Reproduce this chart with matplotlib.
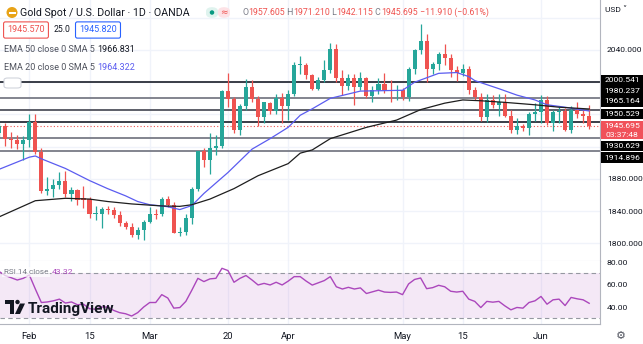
import matplotlib
matplotlib.use("Agg")
import matplotlib.pyplot as plt
from matplotlib import patches
import pandas as pd

plt.rcParams['font.family'] = ['Roboto', 'DejaVu Sans']

# daily bars, OANDA has no bar on Good Friday
dates = [d for d in pd.bdate_range('2023-01-25', '2023-06-13') if d != pd.Timestamp('2023-04-07')]

opens = [1937.5, 1946, 1929.5, 1928, 1923, 1928, 1951, 1913, 1865, 1867,
         1873, 1877, 1861, 1866, 1856, 1855, 1836, 1837, 1843, 1842,
         1835, 1825, 1821, 1810, 1817, 1827, 1836, 1836, 1855, 1848,
         1813.5, 1814.5, 1831, 1867, 1915, 1904, 1919, 1921, 1989, 1979,
         1941, 1970, 1994, 1979, 1957, 1974, 1964, 1980, 1970, 1985,
         2021, 2021, 2009, 1992, 2003, 2015, 2041, 2005, 1995, 2005,
         1994, 2005, 1983, 1990, 1998, 1990, 1988.5, 1990, 1982, 2017,
         2040, 2051, 2017, 2022, 2035, 2030, 2015, 2011, 2017, 1990,
         1982, 1957, 1978, 1972, 1976, 1958, 1941, 1946, 1943, 1960,
         1963, 1978, 1949, 1963, 1964, 1940.5, 1966, 1961, 1957.605]
highs = [1949, 1949.5, 1938, 1934, 1933, 1960, 1960, 1918, 1882, 1880,
         1888, 1890, 1870, 1868, 1871, 1857, 1846, 1845, 1847, 1845,
         1840, 1828, 1825, 1820, 1829, 1845, 1843, 1858, 1859, 1851,
         1820, 1836, 1870, 1914, 1918, 1937, 1934, 1990, 2011, 1982,
         1973, 2004, 2003, 1983, 1976, 1976, 1985, 1987, 1990, 2025,
         2032, 2024, 2010, 2006, 2028, 2049, 2048, 2015, 2010, 2010,
         2013, 2007, 1995, 2005, 2011, 2003, 1997, 1993, 2019, 2041,
         2072, 2060, 2025, 2038, 2048, 2035, 2020, 2022, 2020, 1994,
         1987, 1985, 1984, 1985, 1985, 1965, 1955, 1948, 1963, 1974,
         1984, 1983, 1966, 1969, 1968, 1971, 1975, 1965, 1971.21]
lows = [1932, 1921, 1919, 1917, 1904, 1920, 1911, 1862, 1860, 1858,
        1868, 1858, 1853, 1848, 1844, 1831, 1829, 1819, 1837, 1832,
        1822, 1818, 1808, 1806, 1804, 1825, 1830, 1834, 1845, 1813,
        1809, 1810, 1824, 1865, 1895, 1886, 1910, 1919, 1969, 1937,
        1935, 1965, 1975, 1946, 1950, 1961, 1961, 1950, 1953, 1983,
        2010, 2004, 1990, 1990, 2000, 2012, 2000, 1984, 1990, 1972,
        1990, 1981, 1975, 1985, 1987, 1976, 1978, 1978, 1977, 2010,
        2035, 2000, 2010, 2015, 2021, 2007, 2002, 2008, 1985, 1978,
        1952, 1951, 1968, 1958, 1957, 1937, 1936, 1940, 1934, 1952,
        1950, 1947, 1939, 1950, 1940, 1937, 1955, 1949, 1942.115]
closes = [1946, 1929.5, 1928, 1923, 1928, 1951, 1913, 1865, 1867, 1873,
          1877, 1861, 1866, 1854, 1854, 1836, 1837, 1843, 1842, 1835,
          1825, 1821, 1810, 1817, 1827, 1836, 1835.5, 1855, 1848, 1813.5,
          1814.5, 1831, 1867, 1915, 1904, 1919, 1921, 1989, 1979, 1941,
          1970, 1994, 1979, 1957, 1975, 1964, 1980, 1970, 1985, 2021,
          2021.5, 2009, 1992, 2003, 2015, 2041, 2005, 1995, 2005, 1994,
          2005, 1983, 1990, 1998, 1990, 1988.5, 1990, 1982, 2017, 2040,
          2051, 2017, 2022, 2035, 2030, 2015, 2011, 2017, 1990, 1982,
          1957, 1978, 1972, 1976, 1958, 1941, 1946, 1943, 1960, 1963,
          1978, 1949, 1963, 1964, 1940.5, 1966, 1961, 1957.605, 1945.695]

ema20_dates = ['2023-01-25', '2023-02-01', '2023-02-02', '2023-02-03', '2023-02-09', '2023-02-15',
               '2023-02-20', '2023-02-23', '2023-02-27', '2023-03-01', '2023-03-03', '2023-03-06',
               '2023-03-08', '2023-03-10', '2023-03-14', '2023-03-20', '2023-03-24', '2023-03-29',
               '2023-04-03', '2023-04-05', '2023-04-10', '2023-04-13', '2023-04-20', '2023-05-01',
               '2023-05-03', '2023-05-09', '2023-05-12', '2023-05-16', '2023-05-17', '2023-05-23',
               '2023-05-26', '2023-05-31', '2023-06-02', '2023-06-07', '2023-06-13']
ema20_vals = [1892, 1907, 1908.5, 1905, 1893, 1878, 1868, 1859, 1852, 1848, 1846.5, 1845.5,
              1842, 1847, 1862, 1888, 1917, 1930, 1944, 1959, 1967, 1980, 1989, 1990,
              2000, 2011, 2012, 2007, 2002, 1992, 1984, 1978, 1972, 1969, 1964.3]

ema50_dates = ['2023-01-25', '2023-02-02', '2023-02-09', '2023-02-15', '2023-02-20', '2023-02-24',
               '2023-03-03', '2023-03-08', '2023-03-10', '2023-03-15', '2023-03-21', '2023-03-27',
               '2023-04-03', '2023-04-05', '2023-04-10', '2023-04-13', '2023-04-21', '2023-04-28',
               '2023-05-04', '2023-05-10', '2023-05-15', '2023-05-18', '2023-05-24', '2023-05-31',
               '2023-06-06', '2023-06-13']
ema50_vals = [1833, 1853, 1856, 1855, 1852, 1849, 1846.5, 1846, 1848, 1855, 1868, 1884,
              1899, 1912, 1916, 1930, 1944, 1953, 1966, 1974, 1978, 1977, 1975, 1972,
              1969, 1966.8]

rsi = [71.5, 68, 66, 64, 65.5, 68.5, 56, 44, 44.5, 45.5,
       47, 43.5, 44.5, 42, 42.5, 38.5, 38, 40, 40, 37,
       35, 34, 32, 35, 40, 44, 44, 51, 48, 39,
       39.5, 45, 55, 65.5, 62.6, 65, 65.5, 74.4, 72.4, 62,
       65.5, 68, 64, 59.6, 61, 59.6, 62, 59.6, 63, 67,
       67, 63, 59.5, 61.5, 63.5, 67, 58, 56, 57.5, 56,
       57, 52, 53.5, 55, 53.3, 53, 53.3, 51, 60.5, 64.5,
       65.8, 56.3, 57.2, 59.3, 58, 54, 53.3, 54, 47, 45,
       39.5, 45, 44.3, 45, 41, 37.5, 39.6, 39, 44, 45.5,
       49.4, 42.5, 46.4, 47, 41.3, 48.5, 47.3, 46.4, 43.32]

levels = [2000.541, 1980.237, 1965.164, 1950.529, 1930.629, 1914.896]
level_colors = ['#2a2e39', '#787b86', '#50535e', '#2a2e39', '#787b86', '#787b86']
last_price = 1945.695

price_ticks = [1800, 1840, 1880, 1920, 1960, 2000, 2040, 2080]
shown_price_ticks = [1800, 1840, 1880, 2040]
rsi_ticks = [40, 60, 80]
tick_dates = ['2023-02-01', '2023-02-15', '2023-03-01', '2023-03-20',
              '2023-04-03', '2023-05-01', '2023-05-15', '2023-06-01']
tick_labels = ['Feb', '15', 'Mar', '20', 'Apr', 'May', '15', 'Jun']

UP = '#26a69a'
DOWN = '#ef5350'
GRID = '#f0f3fa'
TXT = '#131722'

W, H = 643, 344
pos = {d.strftime('%Y-%m-%d'): i for i, d in enumerate(dates)}
xs = list(range(len(dates)))


def fy(ypx):
    return 1 - ypx / H


def fx(xpx):
    return xpx / W


fig = plt.figure(figsize=(W / 100, H / 100), dpi=100)
ax = fig.add_axes([0, fy(261), fx(600), 261 / H])
ar = fig.add_axes([0, fy(324), fx(600), 63 / H], sharex=ax)

# --- price panel
for t in tick_dates:
    ax.axvline(pos[t], color=GRID, lw=1, zorder=0)
    ar.axvline(pos[t], color=GRID, lw=1, zorder=0)
for p in price_ticks:
    ax.axhline(p, color=GRID, lw=1, zorder=0)

for p, c in zip(levels, level_colors):
    ax.axhline(p, color=c, lw=1.3, zorder=1)
ax.axhline(last_price, color=DOWN, lw=0.8, ls=(0, (1, 2)), zorder=1)

cols = [UP if c >= o else DOWN for o, c in zip(opens, closes)]
ax.vlines(xs, lows, highs, colors=cols, lw=0.9, zorder=3)
bottoms = [min(o, c) for o, c in zip(opens, closes)]
heights = [max(abs(c - o), 1.2) for o, c in zip(opens, closes)]
ax.bar(xs, heights, bottom=bottoms, width=0.68, color=cols, zorder=4, linewidth=0)

ax.plot([pos[d] for d in ema20_dates], ema20_vals, color='#5b5cf0', lw=0.9, zorder=5)
ax.plot([pos[d] for d in ema50_dates], ema50_vals, color='#1e1e1e', lw=0.9, zorder=5)

ax.set_xlim(0.13, 99.8)
ax.set_ylim(1778.2, 2102)
ax.yaxis.tick_right()
ax.set_yticks(shown_price_ticks)
ax.set_yticklabels(['%.3f' % p for p in shown_price_ticks])
ax.tick_params(axis='y', length=0, pad=5, labelsize=6.1, labelcolor=TXT)
ax.tick_params(axis='x', length=0, labelbottom=False)
for s in ['top', 'left']:
    ax.spines[s].set_visible(False)
ax.spines['right'].set_color('#b2b5be')
ax.spines['bottom'].set_color('#d1d4dc')

# --- RSI panel
ar.axhspan(30, 70, color='#9c27b0', alpha=0.1, lw=0, zorder=0)
ar.axhline(70, color='#9598a1', lw=0.8, ls=(0, (4, 3)), zorder=1)
ar.axhline(30, color='#9598a1', lw=0.8, ls=(0, (4, 3)), zorder=1)
ar.plot(xs, rsi, color='#ab47bc', lw=1.0, zorder=3)
ar.set_ylim(24.9, 80.9)
ar.yaxis.tick_right()
ar.set_yticks(rsi_ticks)
ar.set_yticklabels(['%.2f' % r for r in rsi_ticks])
ar.tick_params(axis='y', length=0, pad=5, labelsize=6.1, labelcolor=TXT)
ar.set_xticks([pos[t] for t in tick_dates])
ar.set_xticklabels(tick_labels)
ar.tick_params(axis='x', length=0, pad=6, labelsize=6.8, labelcolor=TXT)
for s in ['top', 'left']:
    ar.spines[s].set_visible(False)
ar.spines['right'].set_color('#b2b5be')
ar.spines['bottom'].set_color('#b2b5be')

# --- right-axis price labels (pixel centres chosen to avoid overlap)
label_boxes = [('2000.541', 80.5), ('1980.237', 91), ('1965.164', 101.3),
               ('1950.529', 114), ('1930.629', 146), ('1914.896', 157.5)]
for txt, yc in label_boxes:
    fig.add_artist(patches.Rectangle((fx(601), fy(yc + 5.3)), fx(42), 10.6 / H,
                                     transform=fig.transFigure, color='black', lw=0, zorder=20))
    fig.text(fx(622), fy(yc), txt, ha='center', va='center', color='white', fontsize=6.1,
             zorder=21)
fig.add_artist(patches.Rectangle((fx(601), fy(139.5)), fx(42), 18.5 / H,
                                 transform=fig.transFigure, color='#f0525a', lw=0, zorder=20))
fig.text(fx(622), fy(126), '1945.695', ha='center', va='center', color='white', fontsize=6.1,
         zorder=21)
fig.text(fx(622), fy(135), '03:37:48', ha='center', va='center', color='white', fontsize=6.1,
         zorder=21)

fig.text(fx(605), fy(10), 'USD ˅', ha='left', va='center', color=TXT, fontsize=6)
fig.text(fx(621), fy(336), '⚙', ha='center', va='center', color='#50535e', fontsize=8,
         family=['DejaVu Sans'])

# --- legend / header
fig.add_artist(patches.Ellipse((fx(12), fy(12.5)), 11 / W, 11 / H, transform=fig.transFigure,
                               color='#e8a317', lw=0, zorder=20))
fig.add_artist(patches.Rectangle((fx(8.5), fy(14)), fx(7), 2 / H, transform=fig.transFigure,
                                 color='white', lw=0, zorder=21))
fig.text(fx(20), fy(12.5), 'Gold Spot / U.S. Dollar · 1D · OANDA', ha='left', va='center',
         color=TXT, fontsize=7.7)
fig.add_artist(patches.FancyBboxPatch((fx(206), fy(18)), fx(12), 11 / H,
                                      boxstyle='round,pad=0,rounding_size=0.012',
                                      transform=fig.transFigure, color='#dff3ee', lw=0))
fig.add_artist(patches.FancyBboxPatch((fx(218), fy(18)), fx(12), 11 / H,
                                      boxstyle='round,pad=0,rounding_size=0.012',
                                      transform=fig.transFigure, color='#fde2e6', lw=0))
fig.add_artist(patches.Ellipse((fx(212), fy(12.5)), 4.5 / W, 4.5 / H, transform=fig.transFigure,
                               color='#089981', lw=0, zorder=20))
fig.text(fx(224), fy(12.5), '≈', ha='center', va='center', color=DOWN, fontsize=6.5,
         family=['DejaVu Sans'])

ohlc = [('O', '#787b86'), ('1957.605', DOWN), (' H', '#787b86'), ('1971.210', DOWN),
        (' L', '#787b86'), ('1942.115', DOWN), (' C', '#787b86'), ('1945.695', DOWN),
        (' −11.910 (−0.61%)', DOWN)]
prev = fig.text(fx(242), fy(12.5), ohlc[0][0], color=ohlc[0][1], fontsize=6.3,
                ha='left', va='center')
for s, c in ohlc[1:]:
    prev = ax.annotate(s, xy=(1, 0.5), xycoords=prev, ha='left', va='center',
                       color=c, fontsize=6.3, annotation_clip=False)

fig.text(fx(26), fy(30), '1945.570', ha='center', va='center', color=DOWN, fontsize=6.5,
         bbox=dict(boxstyle='round,pad=0.4,rounding_size=0.2', fc='white', ec=DOWN, lw=0.8))
fig.text(fx(62), fy(30), '25.0', ha='center', va='center', color=TXT, fontsize=6.2)
fig.text(fx(98), fy(30), '1945.820', ha='center', va='center', color='#2962ff', fontsize=6.5,
         bbox=dict(boxstyle='round,pad=0.4,rounding_size=0.2', fc='white', ec='#2962ff', lw=0.8))
fig.text(fx(4), fy(50), 'EMA 50 close 0 SMA 5', ha='left', va='center', color='#50535e', fontsize=6.5)
fig.text(fx(97), fy(50), '1966.831', ha='left', va='center', color=TXT, fontsize=6.5)
fig.text(fx(4), fy(67), 'EMA 20 close 0 SMA 5', ha='left', va='center', color='#50535e', fontsize=6.5)
fig.text(fx(97), fy(67), '1964.322', ha='left', va='center', color='#5b5cf0', fontsize=6.5)
fig.add_artist(patches.FancyBboxPatch((fx(4), fy(88)), fx(17), 10 / H,
                                      boxstyle='round,pad=0,rounding_size=0.006',
                                      transform=fig.transFigure, fc='white', ec='#d1d4dc', lw=0.8))

fig.text(fx(4), fy(272), 'RSI 14 close', ha='left', va='center', color='#787b86', fontsize=5.9,
         bbox=dict(boxstyle='square,pad=0.2', fc='white', ec='none', alpha=0.7))
fig.text(fx(52), fy(272), '43.32', ha='left', va='center', color='#ab47bc', fontsize=6.1)

# TradingView logo
fig.add_artist(patches.Rectangle((fx(5), fy(303.5)), fx(9), 3.5 / H,
                                 transform=fig.transFigure, color=TXT, lw=0, zorder=10))
fig.add_artist(patches.Rectangle((fx(9.5), fy(314)), fx(4.5), 11 / H,
                                 transform=fig.transFigure, color=TXT, lw=0, zorder=10))
fig.add_artist(patches.Ellipse((fx(17.5), fy(302)), 4.4 / W, 4.4 / H,
                               transform=fig.transFigure, color=TXT, lw=0, zorder=10))
fig.add_artist(patches.Polygon([(fx(20), fy(303.5)), (fx(25), fy(303.5)),
                                (fx(20), fy(314)), (fx(15), fy(314))], closed=True,
                               transform=fig.transFigure, color=TXT, lw=0, zorder=10))
fig.text(fx(28), fy(308.5), 'TradingView', ha='left', va='center', color=TXT,
         fontsize=11, fontweight='bold', zorder=10)

fig.savefig('out.png', dpi=100)
